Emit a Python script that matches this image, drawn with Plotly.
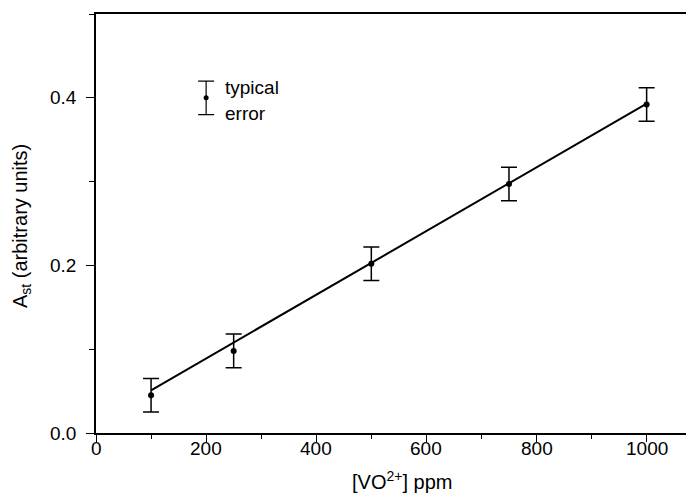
import plotly.graph_objects as go

# Data
conc_ppm = [100, 250, 500, 750, 1000]
a_st = [0.045, 0.098, 0.202, 0.297, 0.392]
a_err = [0.02, 0.02, 0.02, 0.02, 0.02]

fit_x = [100, 1000]
fit_y = [0.051, 0.393]

legend_x = [200]
legend_y = [0.40]
legend_err = [0.02]
legend_labels = ["typical", "error"]

x_ticks = [0, 200, 400, 600, 800, 1000]
x_ticklabels = ["0", "200", "400", "600", "800", "1000"]
y_ticks = [0.0, 0.2, 0.4]
y_ticklabels = ["0.0", "0.2", "0.4"]

FONT = "Liberation Sans, Arial, sans-serif"

# page body has an 8px default margin; compensate so the figure fills the window
W, H = 686, 493
ML, MR, MT, MB = 88, 0, 6, 68
PW = W - ML - MR
PH = H - MT - MB

fig = go.Figure()

fig.add_trace(go.Scatter(
    x=fit_x, y=fit_y, mode="lines",
    line=dict(color="black", width=2), showlegend=False, hoverinfo="skip"))

fig.add_trace(go.Scatter(
    x=conc_ppm, y=a_st, mode="markers",
    marker=dict(color="black", size=6),
    error_y=dict(type="data", array=a_err, visible=True,
                 color="black", thickness=1.5, width=8),
    showlegend=False))

fig.add_trace(go.Scatter(
    x=legend_x, y=legend_y, mode="markers",
    marker=dict(color="black", size=5),
    error_y=dict(type="data", array=legend_err, visible=True,
                 color="black", thickness=1.2, width=8),
    showlegend=False, hoverinfo="skip"))

fig.add_annotation(x=230, y=0.4127, xref="x", yref="y", text=legend_labels[0],
                   showarrow=False, xanchor="left", yanchor="middle",
                   font=dict(size=19, color="black", family=FONT))
fig.add_annotation(x=230, y=0.381, xref="x", yref="y", text=legend_labels[1],
                   showarrow=False, xanchor="left", yanchor="middle",
                   font=dict(size=19, color="black", family=FONT))

# x tick labels, placed closer to the axis as in the reference
for v, lab in zip(x_ticks, x_ticklabels):
    fig.add_annotation(x=v, y=-(449 - 433) / PH, xref="x", yref="paper", text=lab,
                       showarrow=False, xanchor="center", yanchor="middle",
                       font=dict(size=19, color="black", family=FONT))

# axis titles (placed to match the reference positions)
fig.add_annotation(x=(402 - 96) / PW, y=-(480 - 433) / PH, xref="paper", yref="paper",
                   text="[VO<sup>2+</sup>] ppm", showarrow=False,
                   xanchor="center", yanchor="middle",
                   font=dict(size=20, color="black", family=FONT))
fig.add_annotation(x=-(96 - 21) / PW, y=(433 - 226) / PH, xref="paper", yref="paper",
                   text="A<sub>st</sub> (arbitrary units)", showarrow=False, textangle=-90,
                   xanchor="center", yanchor="middle",
                   font=dict(size=20, color="black", family=FONT))

fig.update_layout(
    width=W, height=H,
    margin=dict(l=ML, r=MR, t=MT, b=MB, pad=0),
    paper_bgcolor="white", plot_bgcolor="white",
    font=dict(family=FONT, size=19, color="black"),
    xaxis=dict(range=[0, 1086], tickvals=x_ticks, showticklabels=False,
               showline=True, linecolor="black", linewidth=1.5, mirror=True,
               ticks="outside", ticklen=7, tickwidth=1.3, tickcolor="black",
               showgrid=False, zeroline=False,
               minor=dict(dtick=100, tick0=0, ticks="outside", ticklen=4,
                          tickwidth=1.2, tickcolor="black", showgrid=False)),
    yaxis=dict(range=[0, 0.5], tickvals=y_ticks, ticktext=y_ticklabels,
               showline=True, linecolor="black", linewidth=1.5, mirror=False,
               ticks="outside", ticklen=8, tickwidth=1.3, tickcolor="black",
               ticklabelstandoff=6,
               showgrid=False, zeroline=False,
               minor=dict(dtick=0.1, tick0=0, ticks="outside", ticklen=5,
                          tickwidth=1.2, tickcolor="black", showgrid=False)),
)

fig.write_html("out.html")
